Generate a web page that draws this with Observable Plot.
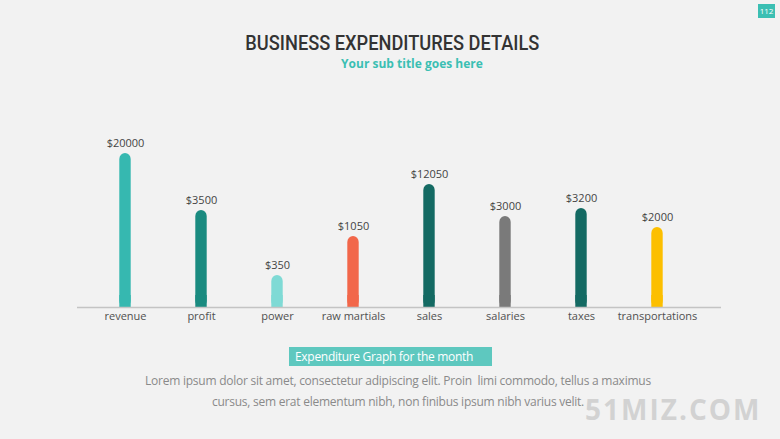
<!DOCTYPE html>
<html>
<head>
<meta charset="utf-8">
<script src="https://cdn.jsdelivr.net/npm/d3@7"></script>
<script src="https://cdn.jsdelivr.net/npm/@observablehq/plot@0.6"></script>
<style>
  html, body { margin: 0; padding: 0; }
  body { width: 780px; height: 439px; background: #f2f2f2; position: relative; overflow: hidden; font-family: "Open Sans", sans-serif; }
  .abs { position: absolute; }
  #title { top: 35px; left: 0; width: 784px; text-align: center; line-height: 17px; height: 17px; }
  #title span { display: inline-block; font-family: "Roboto", sans-serif; font-weight: 500; font-size: 20px; line-height: 17px; color: #333; transform-origin: 50% 50%; white-space: nowrap; }
  #subtitle { top: 56px; left: 0; width: 824px; text-align: center; font-family: "Open Sans", sans-serif; font-weight: bold; font-size: 12px; line-height: 16px; color: #3bbfb3; }
  #page { top: 4px; left: 758px; width: 17px; height: 14px; background: #3bbfb3; color: #fff; font-size: 8px; line-height: 14px; text-align: center; }
  #capbox { top: 347px; left: 289px; width: 203px; height: 19px; background: #5ec8bf; color: #fff; font-size: 12px; line-height: 19px; padding-left: 6px; box-sizing: border-box; letter-spacing: -0.3px; white-space: nowrap; }
  #lorem { top: 370px; left: 0; width: 796px; text-align: center; font-size: 12px; color: #8a8a8a; line-height: 21px; letter-spacing: -0.25px; }
  #wm { top: 395px; left: 585px; font-family: "Open Sans", sans-serif; font-weight: bold; font-size: 28px; line-height: 28px; color: #d2d2d2; letter-spacing: 2px; white-space: nowrap; }
  #chart { top: 0; left: 0; }
</style>
</head>
<body>
<div id="chart" class="abs"></div>
<div id="title" class="abs"><span></span></div>
<div id="subtitle" class="abs"></div>
<div id="page" class="abs"></div>
<div id="capbox" class="abs"></div>
<div id="lorem" class="abs"></div>
<div id="wm" class="abs"></div>
<script>
// ---- data ----
const categories = ["revenue", "profit", "power", "raw martials", "sales", "salaries", "taxes", "transportations"];
const valueLabels = ["$20000", "$3500", "$350", "$1050", "$12050", "$3000", "$3200", "$2000"];
// bar heights as drawn in the reference (not proportional to labels)
const barHeights = [154, 97, 32, 71, 123, 91, 99, 80];
const barColors = ["#36b8b0", "#1a8b80", "#7fdad5", "#f2674a", "#146a63", "#7a7a7a", "#146a63", "#fcbf00"];

const titleText = "BUSINESS EXPENDITURES DETAILS";
const subtitleText = "Your sub title goes here";
const pageNumber = "112";
const captionText = "Expenditure Graph for the month";
const loremLines = [
  "Lorem ipsum dolor sit amet, consectetur adipiscing elit. Proin  limi commodo, tellus a maximus",
  "cursus, sem erat elementum nibh, non finibus ipsum nibh varius velit."
];
const watermark = "51MIZ.COM";

const titleSpan = document.querySelector("#title span");
titleSpan.textContent = titleText;
const tw = titleSpan.getBoundingClientRect().width;
titleSpan.style.transform = `scaleX(${294 / tw})`;
document.getElementById("subtitle").textContent = subtitleText;
document.getElementById("page").textContent = pageNumber;
document.getElementById("capbox").textContent = captionText;
document.getElementById("lorem").innerHTML = loremLines.map(s => s.replace(/ {2}/g, " &nbsp;")).join("<br>");
document.getElementById("wm").textContent = watermark;

const data = categories.map((c, i) => ({cat: c, label: valueLabels[i], h: barHeights[i], color: barColors[i]}));
const R = 6;

const chart = Plot.plot({
  width: 780,
  height: 439,
  marginLeft: 84,
  marginRight: 83,
  marginTop: 147,
  marginBottom: 132,
  style: {background: "transparent", fontFamily: "Open Sans, sans-serif", fontSize: "11px", color: "#505050"},
  x: {domain: categories, padding: 0, label: null, tickSize: 0, tickPadding: 5},
  y: {domain: [0, 160], axis: null},
  color: {type: "identity"},
  marks: [
    Plot.barY(data, {x: "cat", y: "h", fill: "color", rx: R, insetLeft: 32.3, insetRight: 32.3}),
    Plot.barY(data, {x: "cat", y: d => Math.min(d.h, 2 * R), fill: "color", insetLeft: 32.3, insetRight: 32.3}),
    Plot.ruleY([0], {stroke: "#c4c4c4", strokeWidth: 1.5, insetLeft: -7, insetRight: -24}),
    Plot.text(data, {x: "cat", y: "h", text: "label", dy: -10, fill: "#444", fontSize: 11})
  ]
});
document.getElementById("chart").appendChild(chart);
</script>
</body>
</html>
